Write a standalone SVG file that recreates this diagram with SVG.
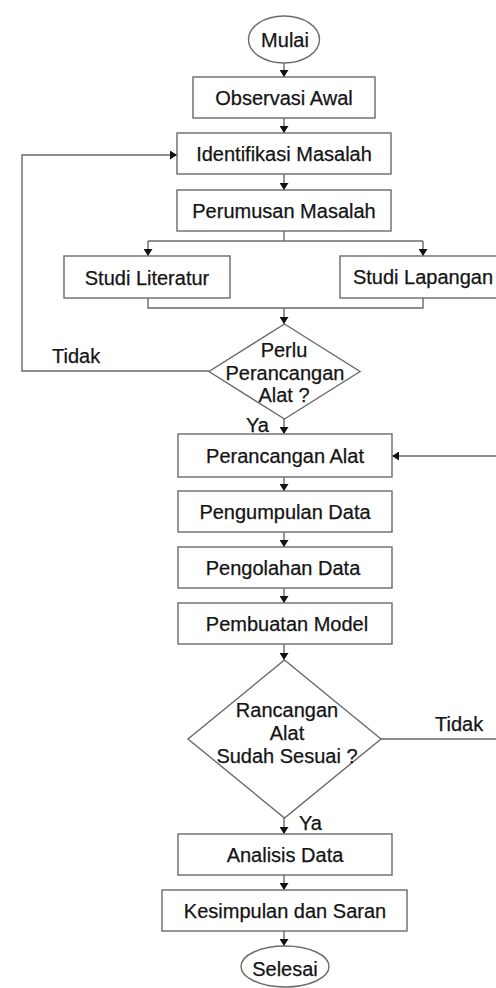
<svg xmlns="http://www.w3.org/2000/svg" width="496" height="988" viewBox="0 0 496 988">
<style>
.n{fill:#fff;stroke:#6a6a6a;stroke-width:1.4}
.t{font-family:"Liberation Sans",Arial,sans-serif;font-size:20px;fill:#141414;stroke:#141414;stroke-width:0.25;text-anchor:middle}
.l{font-family:"Liberation Sans",Arial,sans-serif;font-size:20px;fill:#141414;stroke:#141414;stroke-width:0.25}
.c{fill:none;stroke:#6a6a6a;stroke-width:1.4}
</style>
<defs>
<marker id="ah" viewBox="0 0 7 9" refX="7" refY="4.5" markerWidth="7" markerHeight="9" markerUnits="userSpaceOnUse" orient="auto">
<path d="M0,0 L7,4.5 L0,9 Z" fill="#111"/>
</marker>
</defs>
<rect width="496" height="988" fill="#fff"/>
<g id="connectors">
<path class="c" d="M284,63 V77" marker-end="url(#ah)"/>
<path class="c" d="M284,118 V133" marker-end="url(#ah)"/>
<path class="c" d="M284,174 V190" marker-end="url(#ah)"/>
<path class="c" d="M284,231 V241"/>
<path class="c" d="M148,241 H423"/>
<path class="c" d="M148,241 V256" marker-end="url(#ah)"/>
<path class="c" d="M423,241 V256" marker-end="url(#ah)"/>
<path class="c" d="M148,298 V308 H423 V298"/>
<path class="c" d="M284,308 V324" marker-end="url(#ah)"/>
<path class="c" d="M209,371 H22 V155 H177" marker-end="url(#ah)"/>
<path class="c" d="M284,419 V434" marker-end="url(#ah)"/>
<path class="c" d="M284,477 V491" marker-end="url(#ah)"/>
<path class="c" d="M284,532 V547" marker-end="url(#ah)"/>
<path class="c" d="M284,588 V603" marker-end="url(#ah)"/>
<path class="c" d="M284,644 V660" marker-end="url(#ah)"/>
<path class="c" d="M381,739 H500 V456 H392" marker-end="url(#ah)"/>
<path class="c" d="M284,818 V834" marker-end="url(#ah)"/>
<path class="c" d="M284,875 V890" marker-end="url(#ah)"/>
<path class="c" d="M284,931 V946" marker-end="url(#ah)"/>
<text class="l" x="52" y="363">Tidak</text>
<text class="l" x="246" y="432">Ya</text>
<text class="l" x="435" y="731">Tidak</text>
<text class="l" x="299" y="830">Ya</text>
</g>
<g id="mulai"><ellipse class="n" cx="284" cy="39.5" rx="35.5" ry="23.5"/><text class="t" x="285" y="47">Mulai</text></g>
<g id="observasi"><rect class="n" x="193" y="77" width="182" height="41"/><text class="t" x="284" y="105">Observasi Awal</text></g>
<g id="identifikasi"><rect class="n" x="177" y="133" width="214" height="41"/><text class="t" x="284" y="161">Identifikasi Masalah</text></g>
<g id="perumusan"><rect class="n" x="177" y="190" width="214" height="41"/><text class="t" x="284" y="218">Perumusan Masalah</text></g>
<g id="literatur"><rect class="n" x="64" y="256" width="166" height="42"/><text class="t" x="147" y="285">Studi Literatur</text></g>
<g id="lapangan"><rect class="n" x="340" y="256" width="170" height="42"/><text class="t" x="423" y="284">Studi Lapangan</text></g>
<g id="perlu"><polygon class="n" points="284.5,324 360,371.5 284.5,419 209,371.5"/><text class="t" x="284" y="357">Perlu</text><text class="t" x="285" y="380">Perancangan</text><text class="t" x="284" y="402">Alat ?</text></g>
<g id="perancangan"><rect class="n" x="178" y="434" width="214" height="43"/><text class="t" x="285" y="463">Perancangan Alat</text></g>
<g id="pengumpulan"><rect class="n" x="178" y="491" width="214" height="41"/><text class="t" x="285" y="519">Pengumpulan Data</text></g>
<g id="pengolahan"><rect class="n" x="178" y="547" width="214" height="41"/><text class="t" x="283" y="575">Pengolahan Data</text></g>
<g id="pembuatan"><rect class="n" x="178" y="603" width="214" height="41"/><text class="t" x="287" y="631">Pembuatan Model</text></g>
<g id="sesuai"><polygon class="n" points="284.5,660 381,739 284.5,818 188,739"/><text class="t" x="287" y="717">Rancangan</text><text class="t" x="287" y="740">Alat</text><text class="t" x="287" y="763">Sudah Sesuai ?</text></g>
<g id="analisis"><rect class="n" x="178" y="834" width="214" height="41"/><text class="t" x="285" y="862">Analisis Data</text></g>
<g id="kesimpulan"><rect class="n" x="162" y="890" width="245" height="41"/><text class="t" x="285" y="918">Kesimpulan dan Saran</text></g>
<g id="selesai"><ellipse class="n" cx="285" cy="966.5" rx="44" ry="20.5"/><text class="t" x="285" y="976">Selesai</text></g>
</svg>
